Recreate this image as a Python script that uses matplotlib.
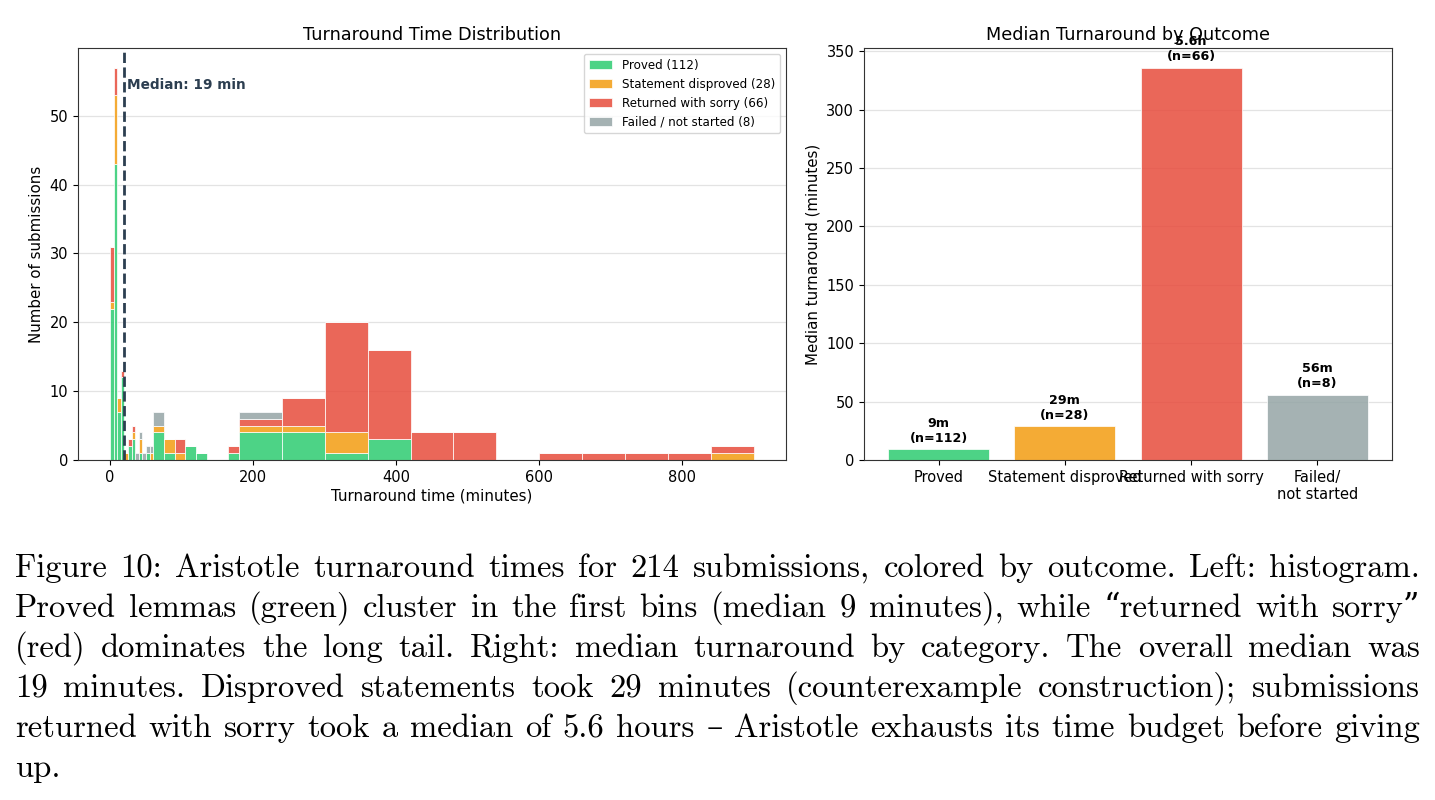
import matplotlib
matplotlib.use("Agg")
import matplotlib.pyplot as plt
import numpy as np

# histogram bins (minutes): 5-min up to 1h, 15-min up to 3h, then hourly
EDGES = [0, 5, 10, 15, 20, 25, 30, 35, 40, 45, 50, 55, 60, 75, 90, 105, 120,
         135, 150, 165, 180, 240, 300, 360, 420, 480, 540, 600, 660, 720, 780,
         840, 900]
PROVED = [22, 43, 7, 12, 0, 2, 3, 0, 1, 0, 1, 0, 4, 1, 0, 2, 1, 0, 0, 1, 4, 4,
          1, 3, 0, 0, 0, 0, 0, 0, 0, 0]
DISPROVED = [1, 10, 2, 0, 1, 0, 1, 0, 2, 0, 0, 1, 1, 2, 1, 0, 0, 0, 0, 0, 1, 1,
             3, 0, 0, 0, 0, 0, 0, 0, 0, 1]
SORRY = [8, 4, 0, 1, 0, 1, 1, 0, 0, 0, 0, 0, 0, 0, 2, 0, 0, 0, 0, 1, 1, 4, 16,
         13, 4, 4, 0, 1, 1, 1, 1, 1]
FAILED = [0, 0, 0, 0, 0, 0, 0, 1, 1, 1, 1, 1, 2, 0, 0, 0, 0, 0, 0, 0, 1, 0, 0,
          0, 0, 0, 0, 0, 0, 0, 0, 0]
HIST_LABELS = ["Proved (112)", "Statement disproved (28)",
               "Returned with sorry (66)", "Failed / not started (8)"]
COLORS = ["#2ecc71", "#f39c12", "#e74c3c", "#95a5a6"]
OVERALL_MEDIAN = 19

OUTCOMES = ["Proved", "Statement disproved", "Returned with sorry",
            "Failed/\nnot started"]
MEDIANS = [9, 29, 336, 56]
MEDIAN_TEXT = ["9m", "29m", "5.6h", "56m"]
COUNTS = [112, 28, 66, 8]

CAPTION = [
    "Figure 10: Aristotle turnaround times for 214 submissions, colored by outcome. Left: histogram.",
    "Proved lemmas (green) cluster in the first bins (median 9 minutes), while \u201creturned with sorry\u201d",
    "(red) dominates the long tail.  Right: median turnaround by category.  The overall median was",
    "19 minutes.  Disproved statements took 29 minutes (counterexample construction); submissions",
    "returned with sorry took a median of 5.6 hours \u2013 Aristotle exhausts its time budget before giving",
    "up.",
]

W, H = 1435, 800
fig = plt.figure(figsize=(W / 100, H / 100), dpi=100)
ax1 = fig.add_axes([78 / W, 1 - 460 / H, 708 / W, 412 / H])
ax2 = fig.add_axes([864 / W, 1 - 460 / H, 528 / W, 412 / H])

for ax in (ax1, ax2):
    ax.grid(axis="y", color="#dddddd", linewidth=0.9, alpha=0.8)
    ax.set_axisbelow(True)
    ax.tick_params(labelsize=10.5)
    for s in ax.spines.values():
        s.set_color("#333333")

# --- left: stacked histogram ---
edges = np.array(EDGES, dtype=float)
widths = np.diff(edges)
bottom = np.zeros(len(widths))
for counts, color, label in zip([PROVED, DISPROVED, SORRY, FAILED], COLORS, HIST_LABELS):
    counts = np.array(counts, dtype=float)
    ax1.bar(edges[:-1], counts, width=widths, bottom=bottom, align="edge",
            color=color, alpha=0.85, edgecolor="white", linewidth=0.6, label=label)
    bottom += counts
# stacked bottoms act as sticky edges, so set the top margin by hand
ax1.set_ylim(0, bottom.max() * 1.05)

ax1.axvline(OVERALL_MEDIAN, color="#2c3e50", linestyle="--", linewidth=2)
ax1.text(OVERALL_MEDIAN + 5, 54.5, f"Median: {OVERALL_MEDIAN} min", fontsize=9.8,
         fontweight="bold", color="#2c3e50", va="center", ha="left")
ax1.set_title("Turnaround Time Distribution", fontsize=12.7)
ax1.set_xlabel("Turnaround time (minutes)", fontsize=10.8, labelpad=3)
ax1.set_ylabel("Number of submissions", fontsize=10.8)
ax1.legend(loc="upper right", fontsize=8.6)

# --- right: median by outcome ---
x = np.arange(len(OUTCOMES))
ax2.bar(x, MEDIANS, width=0.8, color=COLORS, alpha=0.85, edgecolor="white", linewidth=0.6)
for xi, m, t, n in zip(x, MEDIANS, MEDIAN_TEXT, COUNTS):
    ax2.annotate(f"{t}\n(n={n})", (xi, m), xytext=(0, 3), textcoords="offset points",
                 ha="center", va="bottom", fontsize=9.2, fontweight="bold")
ax2.set_xticks(x)
ax2.set_xticklabels(OUTCOMES)
ax2.set_title("Median Turnaround by Outcome", fontsize=12.7)
ax2.set_ylabel("Median turnaround (minutes)", fontsize=10.8)

# --- caption, justified like the LaTeX source ---
renderer = fig.canvas.get_renderer()
x0, x1 = 15, 1420
for i, line in enumerate(CAPTION):
    y = 1 - (577 + 40 * i) / H
    words = line.split()
    texts = [fig.text(0, y, w, fontsize=23.5, family=["cmr10", "DejaVu Serif"],
                      va="baseline", ha="left") for w in words]
    wds = [t.get_window_extent(renderer).width for t in texts]
    if i < len(CAPTION) - 1 and len(words) > 1:
        gap = (x1 - x0 - sum(wds)) / (len(words) - 1)
    else:
        gap = 0.33 * 23.5 * 100 / 72
    pos = x0
    for t, wd in zip(texts, wds):
        t.set_x(pos / W)
        pos += wd + gap

fig.savefig("out.png", dpi=100)
